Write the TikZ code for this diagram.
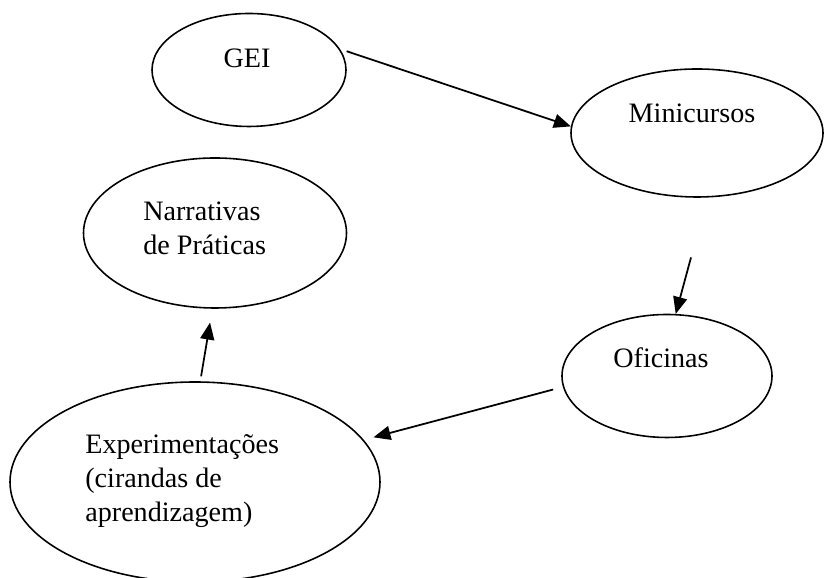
\documentclass[tikz,border=0pt]{standalone}
\usepackage{fontspec}
\setmainfont{Liberation Serif}
\usepackage{tikz}
\usetikzlibrary{arrows.meta}
\usetikzlibrary{shapes}

\begin{document}
\begin{tikzpicture}[
        ellipse_style/.style={ellipse,draw=black,line width=0.9pt,inner sep=0pt},
        text_style/.style={inner sep=0pt,align=left,font=\fontsize{16pt}{19.5pt}\selectfont},
        edge_style/.style={draw=black,line width=1pt,-{Triangle[length=3.4mm,width=2.8mm]}}]

        \useasboundingbox (0,0) rectangle (16.48,11.56);

        \node [ellipse_style,minimum width=3.88cm,minimum height=2.26cm](gei) at (4.98,10.16) {};

        \node [ellipse_style,minimum width=5.04cm,minimum height=2.56cm](mini) at (13.94,8.9) {};

        \node [ellipse_style,minimum width=5.26cm,minimum height=3.0cm](narr) at (4.3,6.9) {};

        \node [ellipse_style,minimum width=4.2cm,minimum height=2.46cm](ofic) at (13.34,4.04) {};

        \node [ellipse_style,minimum width=7.4cm,minimum height=4.0cm](expe) at (3.9,1.92) {};

        \node [text_style,anchor=base](t_gei) at (4.94,10.2) {GEI};

        \node [text_style,anchor=base](t_mini) at (13.84,9.1) {Minicursos};

        \node [text_style,anchor=base west](t_narr) at (2.86,6.46) {Narrativas\\de Práticas};

        \node [text_style,anchor=base](t_ofic) at (13.22,4.2) {Oficinas};

        \node [text_style,anchor=base west](t_expe) at (1.7,1.12) {Experimentações\\(cirandas de\\aprendizagem)};

        \draw [edge_style,shorten <=0.14cm] (gei.13) -- (mini.177);

        \draw [edge_style,shorten <=1.24cm] (mini.-81) -- (ofic.82);

        \draw [edge_style,shorten <=0.2cm,shorten >=0.2cm] (ofic.186) -- (expe.14);

        \draw [edge_style,shorten <=0.1cm,shorten >=0.28cm] (expe.87) -- (narr.-92);

        \end{tikzpicture}
\end{document}
